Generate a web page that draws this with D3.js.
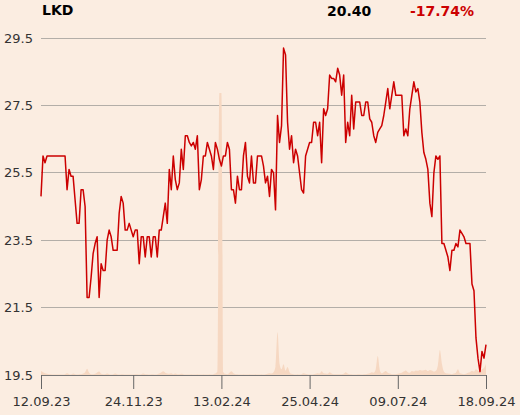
<!DOCTYPE html>
<html>
<head>
<meta charset="utf-8">
<script src="https://cdn.jsdelivr.net/npm/d3@7"></script>
<style>
  html, body { margin: 0; padding: 0; background: #fbede1; }
  svg { display: block; font-family: "DejaVu Sans", sans-serif; }
</style>
</head>
<body>
<div class="chart-container"></div>
<script>
const symbol = 'LKD';
const lastPrice = '20.40';
const change = '-17.74%';

const yTicks = [19.5, 21.5, 23.5, 25.5, 27.5, 29.5];
const xTickIndex = [0, 46, 90, 134, 178, 222];
const xTickLabels = ['12.09.23', '24.11.23', '13.02.24', '25.04.24', '09.07.24', '18.09.24'];

// daily closing price
const price = [
  24.8,26.0,25.8,26.0,26.0,26.0,26.0,26.0,26.0,26.0,
  26.0,26.0,26.0,25.0,25.6,25.4,25.4,24.7,24.0,24.0,
  25.0,25.0,24.5,21.8,21.8,22.4,23.1,23.4,23.6,21.8,
  22.8,22.6,22.6,23.5,23.8,23.6,23.2,23.2,23.2,24.3,
  24.8,24.6,23.8,23.8,24.0,23.8,23.6,23.8,23.8,22.8,
  23.6,23.6,23.0,23.6,23.6,23.0,23.6,23.6,23.0,23.8,
  23.8,24.2,24.6,24.0,25.6,25.0,26.0,25.3,25.0,25.2,
  26.2,25.6,26.6,26.6,26.4,26.3,26.4,26.2,26.6,25.0,
  25.3,26.0,26.0,26.4,26.2,26.0,25.6,26.4,26.2,25.9,
  25.7,26.0,26.0,26.4,26.2,25.0,25.0,24.6,25.4,25.0,
  25.0,26.0,26.4,25.4,25.2,26.0,25.2,25.2,26.0,26.0,
  26.0,25.7,25.2,25.4,24.8,25.6,25.5,24.4,27.2,26.4,
  26.9,29.2,29.0,27.0,26.2,26.6,25.8,26.2,26.0,25.5,
  25.0,24.9,26.0,26.2,26.4,26.4,27.0,27.0,26.6,27.0,
  25.8,27.4,27.2,27.4,28.4,28.3,28.3,28.2,28.6,28.4,
  27.8,28.4,26.4,27.0,26.6,27.8,26.8,27.6,27.6,27.6,
  27.2,27.2,27.6,27.6,27.1,27.0,26.6,26.4,26.7,26.8,
  26.9,27.2,27.6,28.0,27.4,27.8,28.2,27.8,27.8,27.8,
  27.8,26.6,26.8,26.6,27.4,27.8,28.2,27.9,28.0,27.6,
  26.7,26.1,25.9,25.6,24.6,24.2,25.5,26.0,25.9,26.0,
  23.4,23.4,23.2,23.0,22.6,23.2,23.2,23.4,23.3,23.8,
  23.7,23.6,23.4,23.4,23.4,22.2,22.0,20.6,20.0,19.6,
  20.2,20.0,20.4
];

// daily volume (relative)
const volume = [
  1.4,1.0,0.6,0.4,0.3,0.3,0.2,0.2,0.2,0.2,
  0.2,0.2,0.3,0.6,0.3,0.2,0.5,0.3,0.2,0.3,
  0.3,0.5,1.0,2.2,0.8,0.3,0.3,0.4,0.9,1.2,
  0.4,0.3,0.3,0.5,0.3,0.2,0.3,0.5,0.3,0.2,
  0.3,0.3,0.2,0.2,0.2,0.2,0.2,0.3,0.3,0.2,
  0.3,0.5,0.3,0.3,0.2,0.3,0.3,0.2,0.3,0.5,
  0.9,1.3,0.8,0.5,0.4,0.6,0.3,0.5,0.3,0.3,
  0.4,0.3,0.2,0.2,0.2,0.3,0.2,0.2,0.3,0.2,
  0.2,0.3,0.2,0.2,0.3,0.2,0.3,0.5,1.2,100,
  100,1.0,0.4,0.3,0.8,1.3,0.6,0.3,0.3,0.2,
  0.2,0.3,0.2,0.2,0.3,0.2,0.2,0.3,0.2,0.2,
  0.3,0.2,0.3,0.4,0.6,0.5,1.0,3.0,15.2,4.0,
  2.0,3.8,1.5,2.8,1.0,0.4,0.3,0.2,0.3,0.2,
  0.3,0.6,0.4,0.3,0.2,0.2,0.3,0.4,0.6,0.5,
  1.3,0.6,0.5,0.4,1.0,0.5,0.3,0.3,0.3,0.3,
  0.3,0.4,1.0,0.5,0.3,0.3,0.2,0.2,0.3,0.3,
  0.2,0.3,0.3,0.4,0.6,1.0,0.8,2.0,6.7,1.8,
  0.6,1.0,1.4,0.8,0.5,0.3,0.3,0.3,0.4,0.6,
  0.8,1.2,1.6,1.0,0.8,1.4,1.2,1.6,1.5,1.8,
  1.6,1.7,1.9,1.4,1.8,1.6,1.2,1.5,3.5,8.9,
  4.0,1.2,0.6,0.5,0.4,0.3,0.5,0.8,2.0,0.6,
  0.4,0.3,0.4,0.8,1.0,1.5,1.2,2.0,1.5,1.2,
  2.0,2.5,3.9
];

const lineColor = '#cc0000';
const volColor = '#f6d8c2';

const margin = {top: 38, right: 34, bottom: 40, left: 41};
const outerWidth = 520;
const outerHeight = 415;
const width = outerWidth - margin.left - margin.right;
const height = outerHeight - margin.top - margin.bottom;

const svg = d3.select('.chart-container').append('svg')
    .attr('width', outerWidth)
    .attr('height', outerHeight);

svg.append('rect')
    .attr('width', outerWidth)
    .attr('height', outerHeight)
    .attr('fill', '#fbede1');

const chart = svg.append('g')
    .attr('transform', `translate(${margin.left}, ${margin.top})`);

// Scales
const x = d3.scaleLinear().domain([0, price.length - 1]).range([0, width]);
const y = d3.scaleLinear().domain([19.5, 29.5]).range([height, 0]);
const yVol = d3.scaleLinear().domain([0, 100]).range([height, 55]);

// Grid lines
chart.append('g')
    .selectAll('line')
    .data(yTicks)
    .join('line')
    .attr('x1', 0)
    .attr('x2', width)
    .attr('y1', d => y(d))
    .attr('y2', d => y(d))
    .attr('stroke', '#b3aea8')
    .attr('stroke-width', 1)
    .attr('shape-rendering', 'crispEdges');

// Volume area
const volArea = d3.area()
    .x((d, i) => x(i))
    .y0(height)
    .y1(d => yVol(d))
    .curve(d3.curveMonotoneX);

chart.append('path')
    .datum(volume)
    .attr('fill', volColor)
    .attr('d', volArea);

// Y labels
chart.append('g')
    .selectAll('text')
    .data(yTicks)
    .join('text')
    .attr('x', -8)
    .attr('y', d => y(d))
    .attr('dy', '0.35em')
    .attr('text-anchor', 'end')
    .attr('font-size', 13)
    .attr('fill', '#333')
    .text(d => d.toFixed(1));

// X axis
const xAxis = d3.axisBottom(x)
    .tickValues(xTickIndex)
    .tickFormat((d, i) => xTickLabels[i])
    .tickSize(14)
    .tickPadding(8)
    .tickSizeOuter(0);

const gx = chart.append('g')
    .attr('transform', `translate(0, ${height})`)
    .call(xAxis);
gx.select('.domain').attr('stroke', '#777');
gx.selectAll('.tick line').attr('stroke', '#666');
gx.selectAll('.tick text')
    .attr('font-size', 13)
    .attr('font-family', '"DejaVu Sans", sans-serif')
    .attr('fill', '#333');

// Price line
const line = d3.line()
    .x((d, i) => x(i))
    .y(d => y(d));

chart.append('path')
    .datum(price)
    .attr('fill', 'none')
    .attr('stroke', lineColor)
    .attr('stroke-width', 1.5)
    .attr('stroke-linejoin', 'round')
    .attr('d', line);

// Header
svg.append('text')
    .attr('x', 42).attr('y', 15)
    .attr('font-size', 14).attr('font-weight', 'bold')
    .attr('fill', '#000')
    .text(symbol);
svg.append('text')
    .attr('x', 327).attr('y', 16)
    .attr('font-size', 14).attr('font-weight', 'bold')
    .attr('fill', '#000')
    .text(lastPrice);
svg.append('text')
    .attr('x', 410).attr('y', 16)
    .attr('font-size', 14).attr('font-weight', 'bold')
    .attr('fill', lineColor)
    .text(change);
</script>
</body>
</html>
